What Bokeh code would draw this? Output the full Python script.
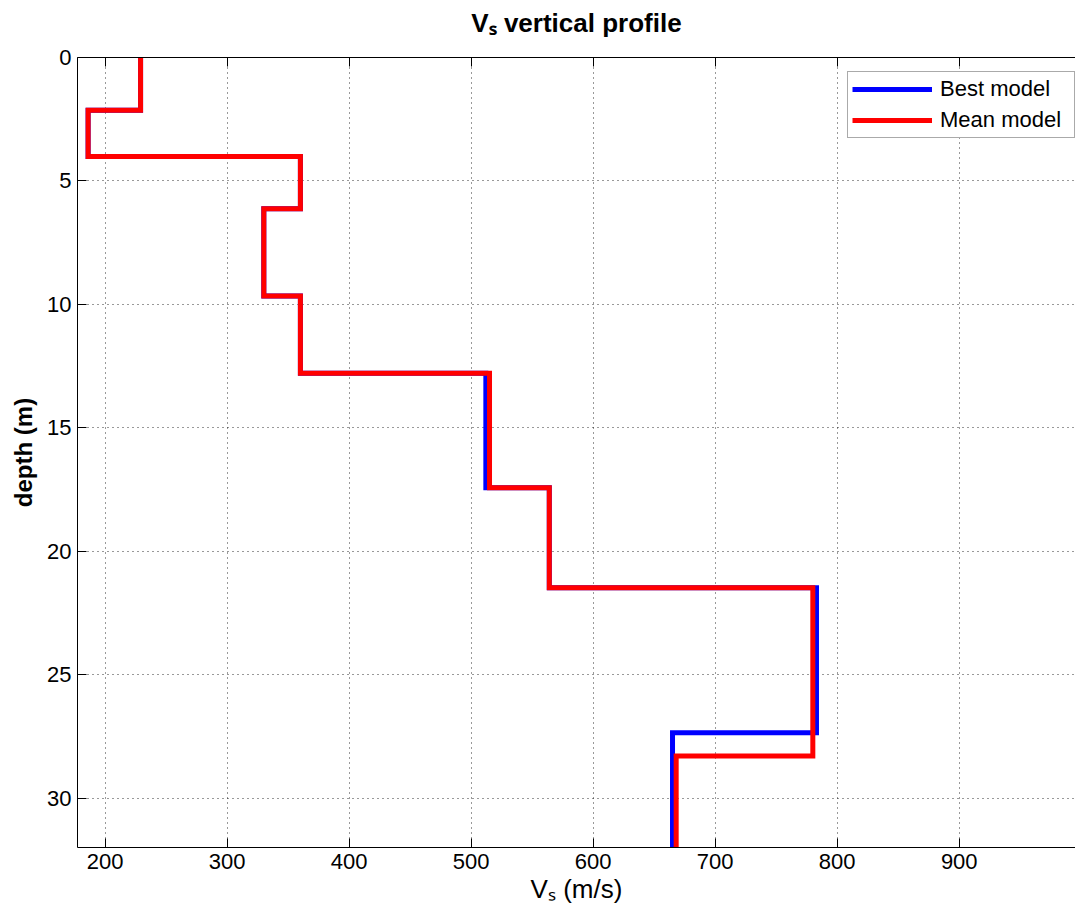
from bokeh.plotting import figure
from bokeh.models import Range1d, LinearAxis, FixedTicker, Legend, LegendItem
from bokeh.embed import file_html
from bokeh.resources import INLINE

# ---- data ----
best_vs = [229, 186, 360, 330, 360, 512, 564, 783, 665]
best_depth = [0, 2.14, 4.01, 6.13, 9.66, 12.79, 17.43, 21.48, 27.35, 32]
mean_vs = [229, 186, 360, 330, 360, 515, 564, 780, 668]
mean_depth = [0, 2.14, 4.01, 6.13, 9.66, 12.79, 17.43, 21.48, 28.29, 32]
x_ticks = [200, 300, 400, 500, 600, 700, 800, 900, 1000]
y_ticks = [0, 5, 10, 15, 20, 25, 30]
series_names = ["Best model", "Mean model"]
title_text = "V\u209b vertical profile"
x_label = "V\u209b (m/s)"
y_label = "depth (m)"

FONT = "Liberation Sans"
X0, X1 = 177.3, 995.3
Y0, Y1 = 0, 32
FL, FT, FW, FH = 77, 57, 998, 790

def step(vs, depth):
    xs, ys = [], []
    for i, v in enumerate(vs):
        xs += [v, v]
        ys += [depth[i], depth[i + 1]]
    return xs, ys

p = figure(frame_width=FW, frame_height=FH, output_backend="svg", toolbar_location=None,
           x_range=Range1d(X0, X1), y_range=Range1d(Y1, Y0),
           min_border_left=FL, min_border_top=FT, min_border_right=0, min_border_bottom=923 - FT - FH,
           background_fill_color="white", border_fill_color="white")
p.outline_line_color = None

for ax in (p.xaxis[0], p.yaxis[0]):
    ax.major_label_text_font = FONT
    ax.major_label_text_font_size = "22px"
    ax.major_label_text_color = "black"
    ax.axis_line_color = "black"
    ax.major_tick_line_color = "black"
    ax.major_tick_in = 9
    ax.major_tick_out = 0
    ax.minor_tick_line_color = None
    ax.axis_label_text_font = FONT
    ax.axis_label_text_color = "black"
p.xaxis[0].ticker = FixedTicker(ticks=x_ticks)
p.yaxis[0].ticker = FixedTicker(ticks=y_ticks)
p.xaxis[0].major_label_standoff = 6
p.yaxis[0].major_label_standoff = 6
p.xaxis[0].axis_label = x_label
p.xaxis[0].axis_label_standoff = 2
p.xaxis[0].axis_label_text_font_size = "26px"
p.xaxis[0].axis_label_text_font_style = "normal"
p.yaxis[0].axis_label = y_label
p.yaxis[0].axis_label_standoff = 7
p.yaxis[0].axis_label_text_font_size = "24px"
p.yaxis[0].axis_label_text_font_style = "bold"

# top axis: box edge with inward ticks; its label carries the chart title
top = LinearAxis(ticker=FixedTicker(ticks=x_ticks), major_label_text_color=None,
                 major_label_text_font_size="1px",
                 major_tick_in=9, major_tick_out=0, minor_tick_line_color=None,
                 axis_line_color="black", major_label_standoff=0,
                 axis_label=title_text, axis_label_text_font=FONT,
                 axis_label_text_font_size="26px", axis_label_text_font_style="bold",
                 axis_label_text_color="black", axis_label_standoff=20)
p.add_layout(top, "above")

p.grid.grid_line_color = "black"
p.grid.grid_line_dash = "1 4"
p.grid.grid_line_alpha = 0.8
p.xgrid.ticker = FixedTicker(ticks=x_ticks)
p.ygrid.ticker = FixedTicker(ticks=y_ticks)

bx, by = step(best_vs, best_depth)
mx, my = step(mean_vs, mean_depth)
rb = p.line(bx, by, line_color="#0000ff", line_width=5, line_join="miter")
rm = p.line(mx, my, line_color="#ff0000", line_width=5, line_join="miter")

legend = Legend(items=[LegendItem(label=series_names[0], renderers=[rb]),
                       LegendItem(label=series_names[1], renderers=[rm])],
                location=(770, 709), label_text_font=FONT, label_text_font_size="22px",
                label_text_color="black", label_width=130,
                glyph_width=80, glyph_height=20, label_standoff=8, padding=4, spacing=5,
                margin=0, border_line_color="#555555", border_line_width=1,
                background_fill_color="white", background_fill_alpha=1)
p.add_layout(legend)

open("out.html", "w").write(file_html(p, INLINE))
